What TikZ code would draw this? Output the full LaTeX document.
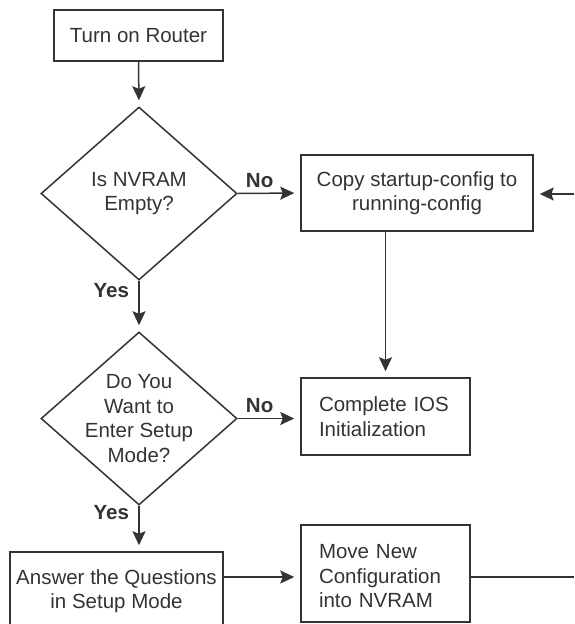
\documentclass[tikz,border=0pt]{standalone}
\usepackage{fontspec}
\setmainfont{Liberation Sans}
\usetikzlibrary{shapes.geometric,arrows.meta}

\begin{document}
\begin{tikzpicture}[x=1pt,y=-1pt,line width=1.5pt,color=black!80,
		font=\fontsize{20.5}{24.5}\selectfont,
		box/.style={draw,rectangle,align=center,inner sep=0pt},
		decision/.style={draw,diamond,inner sep=0pt,minimum width=196pt,minimum height=173pt},
		arr/.style={-{Stealth[length=14pt,width=13pt,inset=2.5pt]},shorten >=6pt},
		lbl/.style={font=\fontsize{20.5}{24.5}\selectfont\bfseries}]
			\useasboundingbox (0,0) rectangle (574,624);
			\clip (0,0) rectangle (574,624);
			\node[box,minimum width=169pt,minimum height=51pt] (router) at (138.5,35.5) {Turn on Router};
			\node[decision,label={[align=center]center:Is NVRAM\\Empty?}] (nvram) at (139,193.5) {};
			\node[box,minimum width=232pt,minimum height=76pt] (copy) at (417,193) {Copy startup-config to\\running-config};
			\node[decision,label={[align=center]center:Do You\\Want to\\Enter Setup\\Mode?}] (setup) at (139,418.5) {};
			\node[box,minimum width=169pt,minimum height=77pt,text width=133pt,align=left] (complete) at (385.5,416.5) {Complete IOS\\Initialization};
			\node[box,minimum width=213pt,minimum height=78pt] (answer) at (116.5,591) {Answer the Questions\\in Setup Mode};
			\node[box,minimum width=169pt,minimum height=97pt,text width=133pt,align=left,
				label={[text width=133pt,align=left,yshift=-3pt]center:Move New\\Configuration\\into NVRAM}] (move) at (385.5,573.5) {};
			\coordinate (loopout) at (574,577);
			\coordinate (loopin) at (574,194);
			\draw[arr] (router.south) -- (nvram.north);
			\draw[arr] (nvram.east) -- node[lbl,above=2pt,pos=0.35] {No} (copy.west);
			\draw[arr] (nvram.south) -- node[lbl,left=6pt,pos=0.2] {Yes} (setup.north);
			\draw[arr] (complete.north |- copy.south) -- (complete.north);
			\draw[arr] (setup.east) -- node[lbl,above=2pt,pos=0.35] {No} (setup.east -| complete.west);
			\draw[arr] (setup.south) -- node[lbl,left=6pt,pos=0.15] {Yes} (setup.south |- answer.north);
			\draw[arr] (answer.east |- loopout) -- (move.west |- loopout);
			\draw (move.east |- loopout) -- (loopout);
			\draw[arr] (loopin) -- (copy.east |- loopin);
		\end{tikzpicture}
\end{document}
